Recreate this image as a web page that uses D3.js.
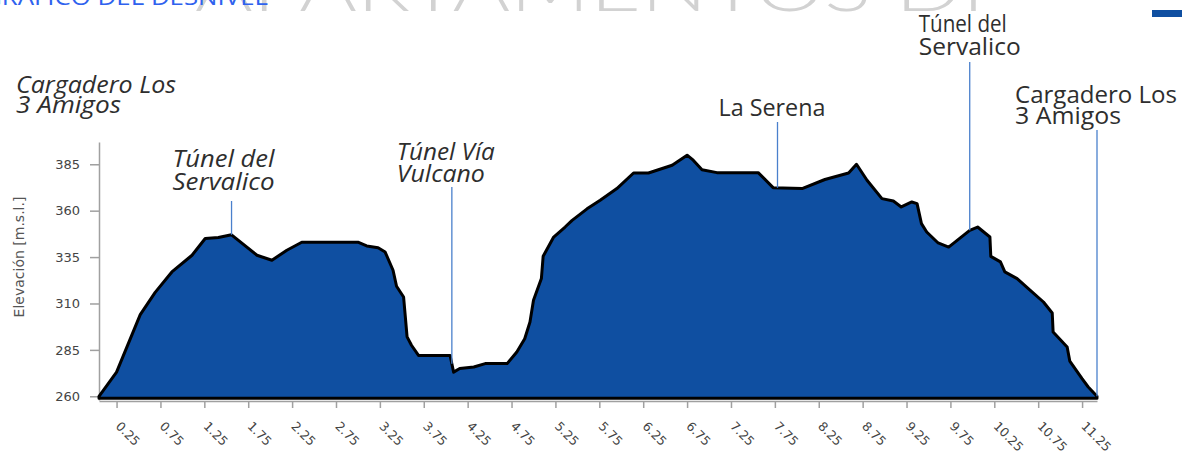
<!DOCTYPE html>
<html><head><meta charset="utf-8">
<script src="https://cdn.jsdelivr.net/npm/d3@7"></script>
<style>body{margin:0;background:#fff;overflow:hidden}</style>
</head><body><svg id="c" width="1182" height="457"></svg>
<script>
// ---- data ----
const distKm = [0.05,0.25,0.52,0.69,0.88,1.11,1.26,1.41,1.56,1.85,2.02,2.19,2.36,3.00,3.10,3.23,3.31,3.40,3.44,3.52,3.56,3.61,3.69,4.05,4.09,4.16,4.32,4.45,4.70,4.81,4.90,4.96,5.00,5.09,5.11,5.23,5.36,5.44,5.61,5.76,5.95,6.14,6.31,6.58,6.75,6.82,6.92,7.09,7.56,7.73,8.06,8.32,8.59,8.68,8.80,8.97,9.10,9.19,9.31,9.37,9.42,9.48,9.61,9.73,9.97,10.06,10.20,10.21,10.32,10.37,10.51,10.66,10.81,10.91,10.92,11.08,11.11,11.25,11.32,11.42];
const elevM  = [260,273,304,316,327,336,345,345.5,347,336,333.3,338.7,343,343,341,340,337.7,327.9,319.3,313.5,292,287.5,282,282,273,275,275.8,277.6,277.6,283.9,291,300,311.7,323.4,335.4,345.8,351.2,354.8,361,365.6,371.9,380.3,380.3,384.5,389.9,387.2,382.1,380.5,380.5,372.4,371.9,376.8,380.3,385,376.4,366.5,365.2,362,364.7,363.8,353,348.5,342.6,340.4,349.4,351.2,345.8,335.4,332.4,327,323.4,317.1,310.8,304.9,294.6,286.6,279,269.5,265,260];
const yTicks = [260,285,310,335,360,385];
const xTicks = [0.25,0.75,1.25,1.75,2.25,2.75,3.25,3.75,4.25,4.75,5.25,5.75,6.25,6.75,7.25,7.75,8.25,8.75,9.25,9.75,10.25,10.75,11.25];
const annotLines = [["Cargadero Los","3 Amigos"],["Túnel del","Servalico"],["Túnel Vía","Vulcano"],["La Serena"],["Túnel del","Servalico"],["Cargadero Los","3 Amigos"]];
const annotKm = [0.05,1.56,4.07,7.78,9.97,11.42];
const titleText = "GRÁFICO DEL DESNIVEL";
const watermarkText = "APARTAMENTOS DI";
const yLabel = "Elevación [m.s.l.]";

// ---- layout ----
const svg = d3.select("#c");
const x = d3.scaleLinear().domain([0.05, 11.42]).range([99, 1097]);
const y = d3.scaleLinear().domain([258, 397]).range([400, 142]);

// header decorations
svg.append("text").text(watermarkText)
  .attr("x",195).attr("y",11)
  .attr("textLength",790).attr("lengthAdjust","spacingAndGlyphs")
  .style("font-family","Lato").style("font-weight",300).style("font-size","66px")
  .attr("fill","#d2d2d2");
svg.append("text").text(titleText)
  .attr("x",-17).attr("y",5)
  .attr("textLength",285).attr("lengthAdjust","spacingAndGlyphs")
  .style("font-family","Open Sans").style("font-size","21px")
  .attr("fill","#2f62ee");
svg.append("rect").attr("x",1152).attr("y",10).attr("width",30).attr("height",7).attr("fill","#0f4fa1");

// axes
const yAxis = svg.append("g").attr("transform","translate(99,0)")
  .call(d3.axisLeft(y).tickValues(yTicks).tickSize(9).tickSizeOuter(0).tickPadding(10));
const xAxis = svg.append("g").attr("transform","translate(0,401)")
  .call(d3.axisBottom(x).tickValues(xTicks).tickSize(7).tickSizeOuter(0).tickFormat(d3.format(".2f")));
[yAxis,xAxis].forEach(g=>{
  g.select(".domain").attr("stroke","#a0a0a0").attr("stroke-width",1.5);
  g.selectAll(".tick line").attr("stroke","#a0a0a0").attr("stroke-width",1.5);
  g.selectAll("text").attr("fill","#444").style("font-family","DejaVu Sans").style("font-size","13px");
});
xAxis.selectAll(".tick text")
  .attr("text-anchor","start").attr("dy",null).attr("y",0)
  .attr("transform","translate(-2,26) rotate(45)")
  .style("font-size","12.5px");
svg.append("text").text(yLabel)
  .attr("transform","translate(24,257) rotate(-90)")
  .attr("text-anchor","middle")
  .style("font-family","DejaVu Sans").style("font-size","14px")
  .attr("fill","#555");

// profile area
const pts = distKm.map((d,i)=>[d, elevM[i]]);
const area = d3.area().x(d=>x(d[0])).y0(y(259)).y1(d=>y(d[1]));
svg.append("path").datum(pts).attr("d",area)
  .attr("fill","#0f4fa1").attr("stroke","#000").attr("stroke-width",3)
  .attr("stroke-linejoin","round");

// annotations
const annotLayout = [
  {top:null, dx:-83, base:[93,113], italic:true,  w:[160,105]},
  {top:201,  dx:-59, base:[167,190], italic:true,  w:[102,102]},
  {top:187,  dx:-55, base:[160,182], italic:true,  w:[98,88]},
  {top:122,  dx:-59, base:[116],     italic:false, w:[107]},
  {top:62,   dx:-51, base:[32,55],   italic:false, w:[88,102]},
  {top:130,  dx:-82, base:[103,124], italic:false, w:[162,106]}
];
function elevAt(km){
  const i = d3.bisector(d=>d).left(distKm, km);
  if(i<=0) return elevM[0];
  if(i>=distKm.length) return elevM[elevM.length-1];
  const t=(km-distKm[i-1])/(distKm[i]-distKm[i-1]);
  return elevM[i-1]+t*(elevM[i]-elevM[i-1]);
}
annotLines.forEach((lines,i)=>{
  const L = annotLayout[i], px = x(annotKm[i]);
  if(L.top!==null){
    svg.append("line").attr("x1",px).attr("x2",px)
      .attr("y1",L.top).attr("y2",y(elevAt(annotKm[i])))
      .attr("stroke","#4a80cc").attr("stroke-width",1.3);
  }
  lines.forEach((t,j)=>{
    svg.append("text").text(t)
      .attr("x",px+L.dx).attr("y",L.base[j])
      .attr("textLength",L.w[j]).attr("lengthAdjust","spacingAndGlyphs")
      .style("font-family","Open Sans").style("font-size","23px")
      .style("font-style",L.italic?"italic":"normal")
      .attr("fill","#2e2e2e");
  });
});
</script></body></html>
